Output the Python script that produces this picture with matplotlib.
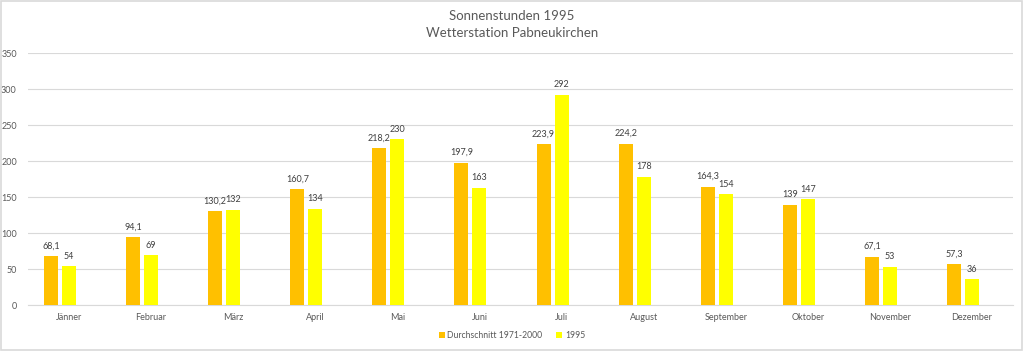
import matplotlib
matplotlib.use("Agg")
import matplotlib.pyplot as plt
from matplotlib.patches import Rectangle
import numpy as np

months = ["Jänner", "Februar", "März", "April", "Mai", "Juni", "Juli",
          "August", "September", "Oktober", "November", "Dezember"]
avg_1971_2000 = [68.1, 94.1, 130.2, 160.7, 218.2, 197.9, 223.9, 224.2, 164.3, 139, 67.1, 57.3]
sun_1995 = [54, 69, 132, 134, 230, 163, 292, 178, 154, 147, 53, 36]
series_names = ["Durchschnitt 1971-2000", "1995"]
yticks = [0, 50, 100, 150, 200, 250, 300, 350]

plt.rcParams['font.family'] = ['Lato', 'DejaVu Sans']

fig = plt.figure(figsize=(10.24, 3.51), dpi=100)
fig.patches.append(Rectangle((0.001, 0.002), 0.997, 0.995, transform=fig.transFigure,
                             fill=False, edgecolor="#D9D9D9", linewidth=1.2))
ax = fig.add_axes([0.0273, 0.131, 0.962, 0.718])

x = np.arange(len(months))
w = 0.17
off = 0.219
c1, c2 = "#FFC000", "#FFFF00"
b1 = ax.bar(x - off, avg_1971_2000, w, color=c1, label=series_names[0], zorder=3)
b2 = ax.bar(x, sun_1995, w, color=c2, label=series_names[1], zorder=3)

def fmt(v):
    return ("%g" % v).replace(".", ",")

for bars, vals in ((b1, avg_1971_2000), (b2, sun_1995)):
    for r, v in zip(bars, vals):
        ax.annotate(fmt(v), (r.get_x() + r.get_width() / 2, v), xytext=(0, 4),
                    textcoords="offset points", ha="center", va="bottom",
                    fontsize=6.5, color="#404040")

ax.set_xlim(-0.5, len(months) - 0.5)
ax.set_ylim(0, 350)
ax.set_yticks(yticks)
ax.set_yticklabels([str(t) for t in yticks])
ax.set_xticks(x)
ax.set_xticklabels(months)
ax.tick_params(axis="both", length=0, labelsize=6.5, colors="#595959")
ax.tick_params(axis="y", pad=8)
ax.tick_params(axis="x", pad=6)
ax.grid(axis="y", color="#D9D9D9", linewidth=0.8, zorder=0)
for s in ("top", "right", "left"):
    ax.spines[s].set_visible(False)
ax.spines["bottom"].set_color("#D9D9D9")
ax.spines["bottom"].set_linewidth(0.8)

fig.text(0.5, 0.955, "Sonnenstunden 1995", ha="center", va="center", fontsize=9.5, color="#595959")
fig.text(0.5, 0.907, "Wetterstation Pabneukirchen", ha="center", va="center", fontsize=9.5, color="#595959")

leg = fig.legend(handles=[b1, b2], labels=series_names, loc="center", bbox_to_anchor=(0.5, 0.043),
                 ncol=2, frameon=False, fontsize=6.2, handlelength=0.7, handleheight=0.7,
                 handletextpad=0.3, columnspacing=1.6)
for t in leg.get_texts():
    t.set_color("#595959")

fig.savefig("out.png", dpi=100)
